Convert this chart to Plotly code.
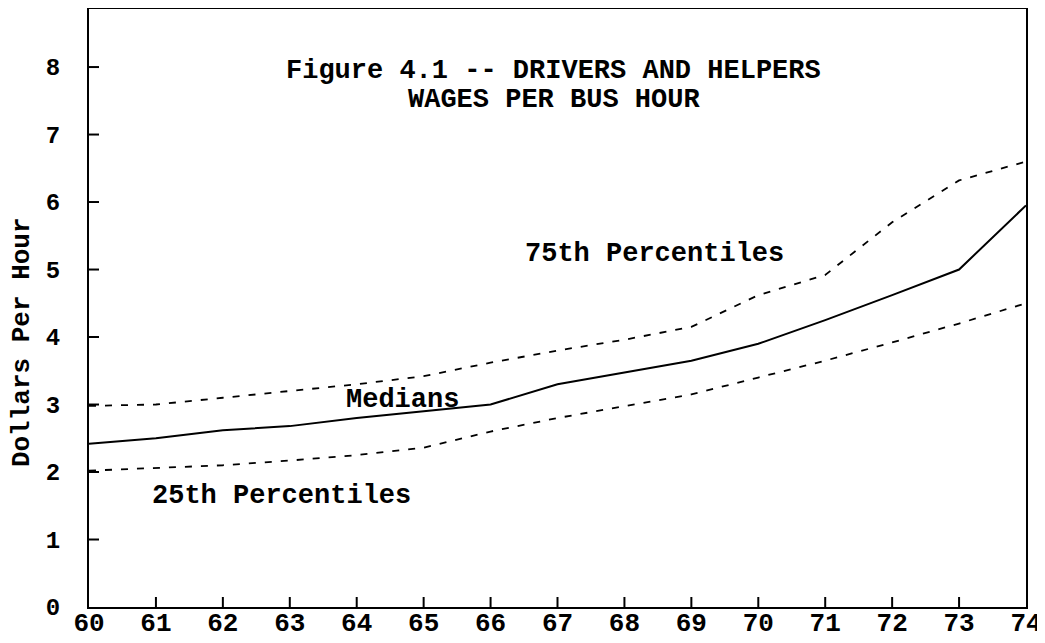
import plotly.graph_objects as go

years = [60, 61, 62, 63, 64, 65, 66, 67, 68, 69, 70, 71, 72, 73, 74]
medians = [2.42, 2.5, 2.62, 2.68, 2.8, 2.9, 3.0, 3.3, 3.48, 3.65, 3.9, 4.25, 4.62, 5.0, 5.95]
p75 = [2.98, 3.0, 3.1, 3.2, 3.3, 3.42, 3.62, 3.8, 3.96, 4.15, 4.62, 4.92, 5.7, 6.32, 6.6]
p25 = [2.02, 2.06, 2.1, 2.17, 2.25, 2.36, 2.6, 2.8, 2.97, 3.15, 3.4, 3.65, 3.92, 4.2, 4.5]
y_ticks = [0, 1, 2, 3, 4, 5, 6, 7, 8]
x_tick_labels = ["60", "61", "62", "63", "64", "65", "66", "67", "68", "69", "70", "71", "72", "73", "74"]

FONT = "Liberation Mono"

fig = go.Figure()
fig.add_trace(go.Scatter(x=years, y=p75, mode="lines",
                         line=dict(color="black", width=1.8, dash="7px,9px")))
fig.add_trace(go.Scatter(x=years, y=medians, mode="lines",
                         line=dict(color="black", width=2)))
fig.add_trace(go.Scatter(x=years, y=p25, mode="lines",
                         line=dict(color="black", width=1.8, dash="7px,9px")))

ann_font = dict(family=FONT, size=27, color="black", weight="bold")
common = dict(showarrow=False, xanchor="center", yanchor="middle")
fig.add_annotation(x=0.496, y=0.896, xref="paper", yref="paper",
                   text="Figure 4.1 -- DRIVERS AND HELPERS", font=ann_font, **common)
fig.add_annotation(x=0.496, y=0.848, xref="paper", yref="paper",
                   text="WAGES PER BUS HOUR", font=ann_font, **common)
fig.add_annotation(x=68.45, y=5.23, text="75th Percentiles", font=ann_font, **common)
fig.add_annotation(x=64.69, y=3.06, text="Medians", font=ann_font, **common)
fig.add_annotation(x=62.87, y=1.64, text="25th Percentiles", font=ann_font, **common)
# y axis title
fig.add_annotation(x=-0.0715, y=0.443, xref="paper", yref="paper",
                   text="Dollars Per Hour", textangle=-90,
                   font=dict(family=FONT, size=26, color="black", weight="bold"), **common)

# inside tick marks (drawn from the tick value lists, pixel-sized)
for v in years[1:-1]:
    fig.add_shape(type="line", xref="x", yref="y", x0=v, x1=v,
                  ysizemode="pixel", yanchor=0, y0=0, y1=10,
                  line=dict(color="black", width=2), layer="above")
for v in y_ticks[1:]:
    fig.add_shape(type="line", xref="x", yref="y", y0=v, y1=v,
                  xsizemode="pixel", xanchor=years[0], x0=0, x1=10,
                  line=dict(color="black", width=2), layer="above")

fig.update_layout(
    template="none",
    width=1037, height=635,
    margin=dict(l=81, r=19, t=1, b=36),
    paper_bgcolor="white", plot_bgcolor="white",
    showlegend=False,
    font=dict(family=FONT, color="black"),
)
fig.update_xaxes(
    range=[60, 74], tickmode="array", tickvals=years, ticktext=x_tick_labels,
    ticks="", showline=True, linecolor="black", linewidth=2, mirror=True,
    showgrid=False, zeroline=False, automargin=False, ticklabelstandoff=-9,
    tickfont=dict(family=FONT, size=26, color="black", weight="bold"),
)
fig.update_yaxes(
    range=[0, 8.86], tickmode="array", tickvals=y_ticks,
    ticks="", showline=True, linecolor="black", linewidth=2, mirror=True,
    showgrid=False, zeroline=False, ticklabelstandoff=22, automargin=False,
    tickfont=dict(family=FONT, size=24, color="black", weight="bold"),
)

fig.write_html("out.html")
